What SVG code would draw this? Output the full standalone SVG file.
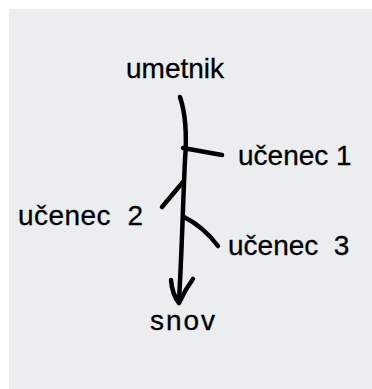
<svg xmlns="http://www.w3.org/2000/svg" width="372" height="389" viewBox="0 0 372 389">
  <style>
    .label { font-family: "Liberation Sans", Arial, sans-serif; font-size: 28px; fill: #000; stroke: #000; stroke-width: 0.3; }
    .stroke { fill: none; stroke: #000; stroke-width: 4.5; stroke-linecap: round; stroke-linejoin: round; }
  </style>
  <rect x="9" y="9" width="363" height="380" fill="#ECEDEF"/>

  <g id="connectors">
    <!-- main trunk with hand-drawn arrowhead -->
    <path class="stroke" d="M180 97 C186 115 187 135 185 160 C183 200 182 250 179 300"/>
    <path class="stroke" d="M171 280 C172 292 175 298 179 303 C183 294 187 287 193 279"/>
    <!-- branches -->
    <path class="stroke" d="M183 148 L222 155"/>
    <path class="stroke" d="M183 182 L162 207"/>
    <path class="stroke" d="M184 217 C198 224 209 234 218 246"/>
  </g>

  <g id="umetnik"><text class="label" x="126" y="78">umetnik</text></g>
  <g id="ucenec1"><text class="label" x="238" y="165">učenec 1</text></g>
  <g id="ucenec2"><text class="label" x="18" y="225" textLength="125" xml:space="preserve">učenec  2</text></g>
  <g id="ucenec3"><text class="label" x="228" y="255" xml:space="preserve">učenec  3</text></g>
  <g id="snov"><text class="label" x="150" y="330" textLength="65">snov</text></g>
</svg>
